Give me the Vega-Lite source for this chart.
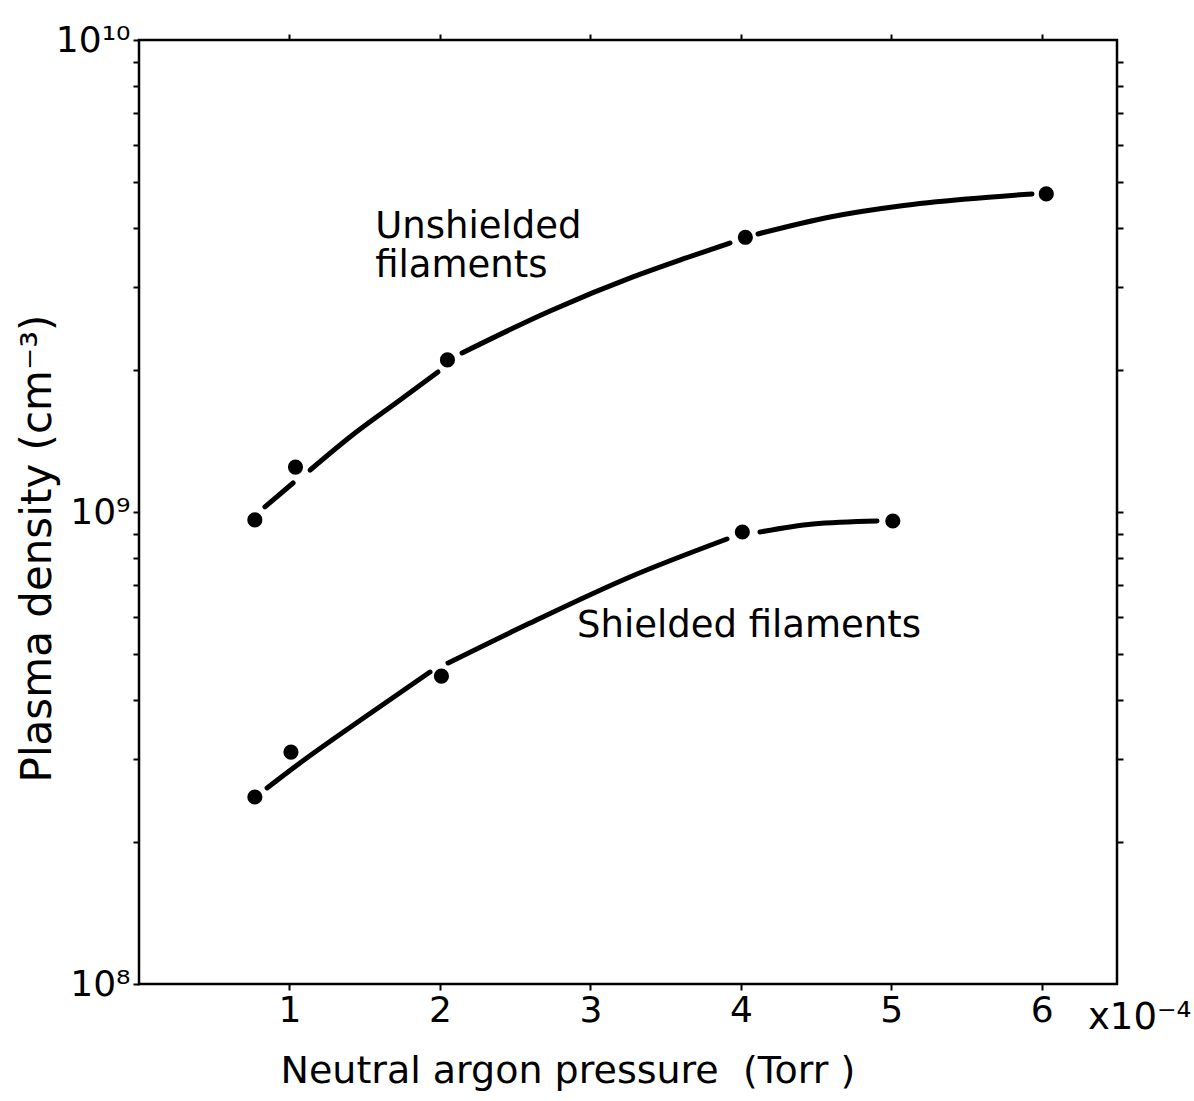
{
  "$schema": "https://vega.github.io/schema/vega-lite/v6.json",
  "width": 978,
  "height": 944,
  "autosize": "none",
  "padding": {"left": 139, "top": 40, "right": 77, "bottom": 117},
  "background": "white",
  "datasets": {
    "pts": [
      {"series": "Unshielded", "x": 0.77, "y": 962000000},
      {"series": "Unshielded", "x": 1.04, "y": 1245000000},
      {"series": "Unshielded", "x": 2.05, "y": 2100000000},
      {"series": "Unshielded", "x": 4.03, "y": 3820000000},
      {"series": "Unshielded", "x": 6.03, "y": 4720000000},
      {"series": "Shielded", "x": 0.77, "y": 249000000},
      {"series": "Shielded", "x": 1.01, "y": 310000000},
      {"series": "Shielded", "x": 2.01, "y": 449000000},
      {"series": "Shielded", "x": 4.01, "y": 907000000},
      {"series": "Shielded", "x": 5.01, "y": 957000000}
    ],
    "curve": [
      {"seg": "u1", "x": 0.837, "y": 1025000000},
      {"seg": "u1", "x": 1.024, "y": 1152000000},
      {"seg": "u2", "x": 1.137, "y": 1227000000},
      {"seg": "u2", "x": 1.402, "y": 1442000000},
      {"seg": "u2", "x": 1.735, "y": 1727000000},
      {"seg": "u2", "x": 1.987, "y": 1980000000},
      {"seg": "u3", "x": 2.147, "y": 2172000000},
      {"seg": "u3", "x": 2.732, "y": 2666000000},
      {"seg": "u3", "x": 3.283, "y": 3148000000},
      {"seg": "u3", "x": 3.616, "y": 3436000000},
      {"seg": "u3", "x": 3.928, "y": 3715000000},
      {"seg": "u4", "x": 4.114, "y": 3882000000},
      {"seg": "u4", "x": 4.593, "y": 4217000000},
      {"seg": "u4", "x": 5.058, "y": 4449000000},
      {"seg": "u4", "x": 5.503, "y": 4603000000},
      {"seg": "u4", "x": 5.935, "y": 4720000000},
      {"seg": "s1", "x": 0.851, "y": 260200000},
      {"seg": "s1", "x": 1.07, "y": 294000000},
      {"seg": "s1", "x": 1.502, "y": 367900000},
      {"seg": "s1", "x": 1.934, "y": 458100000},
      {"seg": "s2", "x": 2.054, "y": 478700000},
      {"seg": "s2", "x": 2.599, "y": 581800000},
      {"seg": "s2", "x": 3.263, "y": 728500000},
      {"seg": "s2", "x": 3.908, "y": 876700000},
      {"seg": "s3", "x": 4.127, "y": 907000000},
      {"seg": "s3", "x": 4.48, "y": 943000000},
      {"seg": "s3", "x": 4.905, "y": 957000000}
    ],
    "labels": [
      {"label": "Unshielded", "x": 1.57, "y": 3810000000},
      {"label": "filaments", "x": 1.57, "y": 3148000000},
      {"label": "Shielded filaments", "x": 2.911, "y": 543700000},
      {"label": "x10⁻⁴", "x": 6.307, "y": 80400000}
    ]
  },
  "layer": [
    {
      "encoding": {
        "x": {
          "field": "x",
          "type": "quantitative",
          "scale": {"domain": [0, 6.5], "nice": false, "zero": false},
          "axis": {
            "orient": "bottom",
            "values": [1, 2, 3, 4, 5, 6],
            "format": "d",
            "tickSize": 6,
            "labelPadding": 3,
            "labelFontSize": 36,
            "title": "Neutral argon pressure\u00a0\u00a0(Torr\u00a0)",
            "titleFontSize": 38,
            "titleX": 141,
            "titleY": 98,
            "titleAlign": "left",
            "titleBaseline": "alphabetic"
          }
        },
        "y": {
          "field": "y",
          "type": "quantitative",
          "scale": {"type": "log", "domain": [100000000, 10000000000], "nice": false},
          "axis": {
            "orient": "left",
            "values": [100000000, 200000000, 300000000, 400000000, 500000000, 600000000, 700000000, 800000000, 900000000, 1000000000, 2000000000, 3000000000, 4000000000, 5000000000, 6000000000, 7000000000, 8000000000, 9000000000, 10000000000],
            "labelExpr": "datum.value == 10000000000 ? '10¹⁰' : datum.value == 1000000000 ? '10⁹' : datum.value == 100000000 ? '10⁸' : ''",
            "tickSize": 6,
            "labelPadding": 3,
            "labelFontSize": 36,
            "labelBaseline": "middle",
            "labelOverlap": false,
            "title": "Plasma density (cm⁻³)",
            "titleFontSize": 42,
            "titleAngle": 270,
            "titleX": -102,
            "titleY": 508,
            "titleAlign": "center",
            "titleBaseline": "middle"
          }
        }
      },
      "layer": [
        {
          "data": {"name": "curve"},
          "mark": {"type": "line", "interpolate": "monotone", "color": "black", "strokeWidth": 5, "strokeCap": "round"},
          "encoding": {"detail": {"field": "seg"}}
        },
        {
          "data": {"name": "pts"},
          "mark": {"type": "circle", "color": "black", "opacity": 1, "size": 230},
          "encoding": {}
        },
        {
          "data": {"name": "labels"},
          "mark": {"type": "text", "align": "left", "baseline": "alphabetic", "font": "DejaVu Sans", "fontSize": 37, "color": "black"},
          "encoding": {"text": {"field": "label"}}
        }
      ]
    },
    {
      "data": {"name": "pts"},
      "mark": {"type": "point", "opacity": 0},
      "encoding": {
        "x": {
          "field": "x",
          "type": "quantitative",
          "scale": {"domain": [0, 6.5], "nice": false, "zero": false},
          "axis": {"orient": "top", "values": [1, 2, 3, 4, 5, 6], "labels": false, "title": null, "tickSize": 6}
        },
        "y": {
          "field": "y",
          "type": "quantitative",
          "scale": {"type": "log", "domain": [100000000, 10000000000], "nice": false},
          "axis": {
            "orient": "right",
            "values": [200000000, 300000000, 400000000, 500000000, 600000000, 700000000, 800000000, 900000000, 1000000000, 2000000000, 3000000000, 4000000000, 5000000000, 6000000000, 7000000000, 8000000000, 9000000000],
            "labels": false,
            "title": null,
            "tickSize": 6
          }
        }
      }
    }
  ],
  "resolve": {"axis": {"x": "independent", "y": "independent"}},
  "config": {
    "view": {"stroke": "black", "strokeWidth": 2.5},
    "axis": {
      "domain": false,
      "grid": false,
      "ticks": true,
      "tickColor": "black",
      "tickWidth": 2,
      "labelColor": "black",
      "titleColor": "black",
      "labelFont": "DejaVu Sans",
      "titleFont": "DejaVu Sans",
      "titleFontWeight": "normal"
    }
  }
}
